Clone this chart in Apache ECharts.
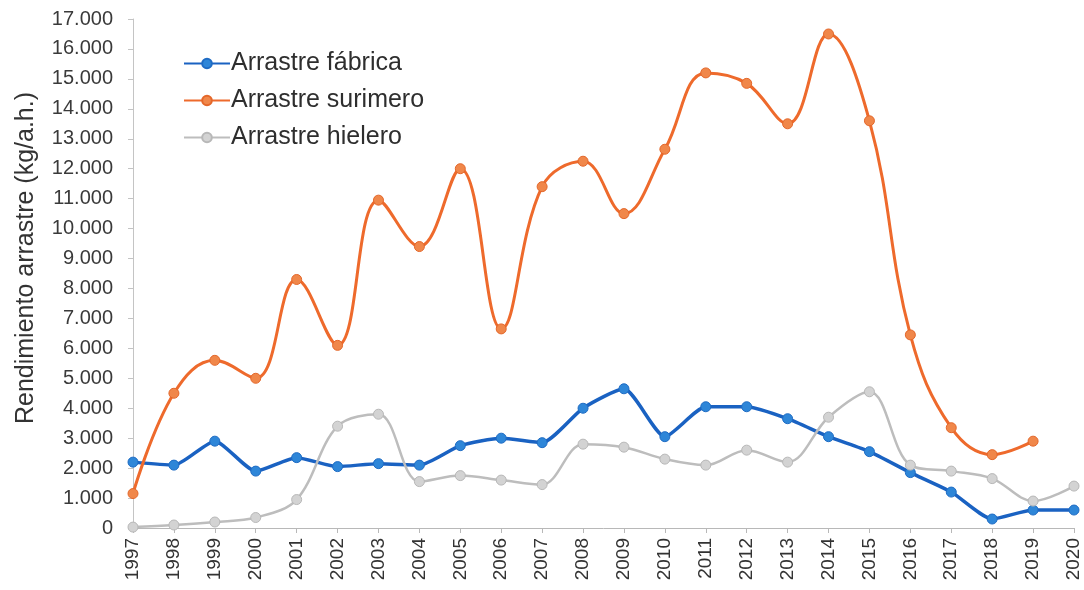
<!DOCTYPE html>
<html>
<head>
<meta charset="utf-8">
<script src="https://cdn.jsdelivr.net/npm/echarts@6/dist/echarts.min.js"></script>
<style>
  html, body { margin: 0; padding: 0; background: #ffffff; }
  #chart { width: 1084px; height: 590px; }
</style>
</head>
<body>
<div id="chart"></div>
<script>
// Years on the category axis
const years = ['1997','1998','1999','2000','2001','2002','2003','2004','2005','2006','2007','2008',
               '2009','2010','2011','2012','2013','2014','2015','2016','2017','2018','2019','2020'];

// Rendimiento (kg/a.h.) per fleet type
const fabrica = [2200, 2100, 2900, 1900, 2350, 2050, 2150, 2100, 2750, 3000, 2850, 4000,
                 4650, 3050, 4050, 4050, 3650, 3050, 2550, 1850, 1200, 300, 600, 600];
const surimero = [1150, 4500, 5600, 5000, 8300, 6100, 10950, 9400, 12000, 6650, 11400, 12250,
                  10500, 12650, 15200, 14850, 13500, 16500, 13600, 6450, 3350, 2450, 2900, null];
const hielero = [30, 100, 200, 350, 950, 3400, 3800, 1550, 1750, 1600, 1450, 2800,
                 2700, 2300, 2100, 2600, 2200, 3700, 4550, 2100, 1900, 1650, 900, 1400];

const seriesNames = ['Arrastre fábrica', 'Arrastre surimero', 'Arrastre hielero'];
const yTitle = 'Rendimiento arrastre (kg/a.h.)';

const FONT = '"Liberation Sans", Arial, sans-serif';

function thousands(v) {
  if (v === 0) return '0';
  return String(v).replace(/\B(?=(\d{3})+(?!\d))/g, '.');
}

const chart = echarts.init(document.getElementById('chart'), null, { renderer: 'canvas' });

function lineSeries(name, data, lineColor, markColor, borderColor, width, smooth) {
  return {
    name: name,
    type: 'line',
    data: data,
    smooth: smooth,
    symbol: 'circle',
    symbolSize: 10,
    showAllSymbol: true,
    connectNulls: false,
    lineStyle: { color: lineColor, width: width },
    itemStyle: { color: markColor, borderColor: borderColor, borderWidth: 1 },
    emphasis: { disabled: true }
  };
}

chart.setOption({
  animation: false,
  backgroundColor: '#ffffff',
  grid: { left: 133, right: 10, top: 19, bottom: 62, containLabel: false },
  legend: {
    orient: 'vertical',
    left: 178,
    top: 46,
    itemWidth: 46,
    itemHeight: 12,
    itemGap: 12,
    data: seriesNames,
    textStyle: { fontFamily: FONT, fontSize: 25, color: '#2e2e2e', padding: [0, 0, 0, -4] }
  },
  xAxis: {
    type: 'category',
    data: years,
    boundaryGap: false,
    axisLine: { lineStyle: { color: '#b8b8b8', width: 1 } },
    axisTick: { show: true, alignWithLabel: true, length: 5, lineStyle: { color: '#b8b8b8' } },
    axisLabel: {
      rotate: 90,
      interval: 0,
      margin: 10,
      fontFamily: FONT,
      fontSize: 19,
      color: '#333333'
    },
    splitLine: { show: false }
  },
  yAxis: {
    type: 'value',
    min: 0,
    max: 17000,
    interval: 1000,
    axisLine: { show: true, lineStyle: { color: '#c4c4c4', width: 1 } },
    axisTick: { show: true, length: 5, lineStyle: { color: '#c4c4c4' } },
    axisLabel: {
      margin: 20,
      fontFamily: FONT,
      fontSize: 20,
      color: '#3a3a3a',
      formatter: thousands
    },
    splitLine: { show: false }
  },
  graphic: [{
    type: 'text',
    x: 26,
    y: 258,
    rotation: Math.PI / 2,
    style: {
      text: yTitle,
      font: '25px ' + FONT,
      fill: '#333333',
      textAlign: 'center',
      textVerticalAlign: 'middle'
    }
  }],
  series: [
    lineSeries(seriesNames[0], fabrica, '#1a62c2', '#2e86d8', '#1f6cc4', 3.5, 0.2),
    lineSeries(seriesNames[1], surimero, '#ee6a2c', '#f0874a', '#e4672a', 3, 0.4),
    lineSeries(seriesNames[2], hielero, '#bdbdbd', '#d3d3d3', '#b8b8b8', 2.5, 0.35)
  ]
});
</script>
</body>
</html>
